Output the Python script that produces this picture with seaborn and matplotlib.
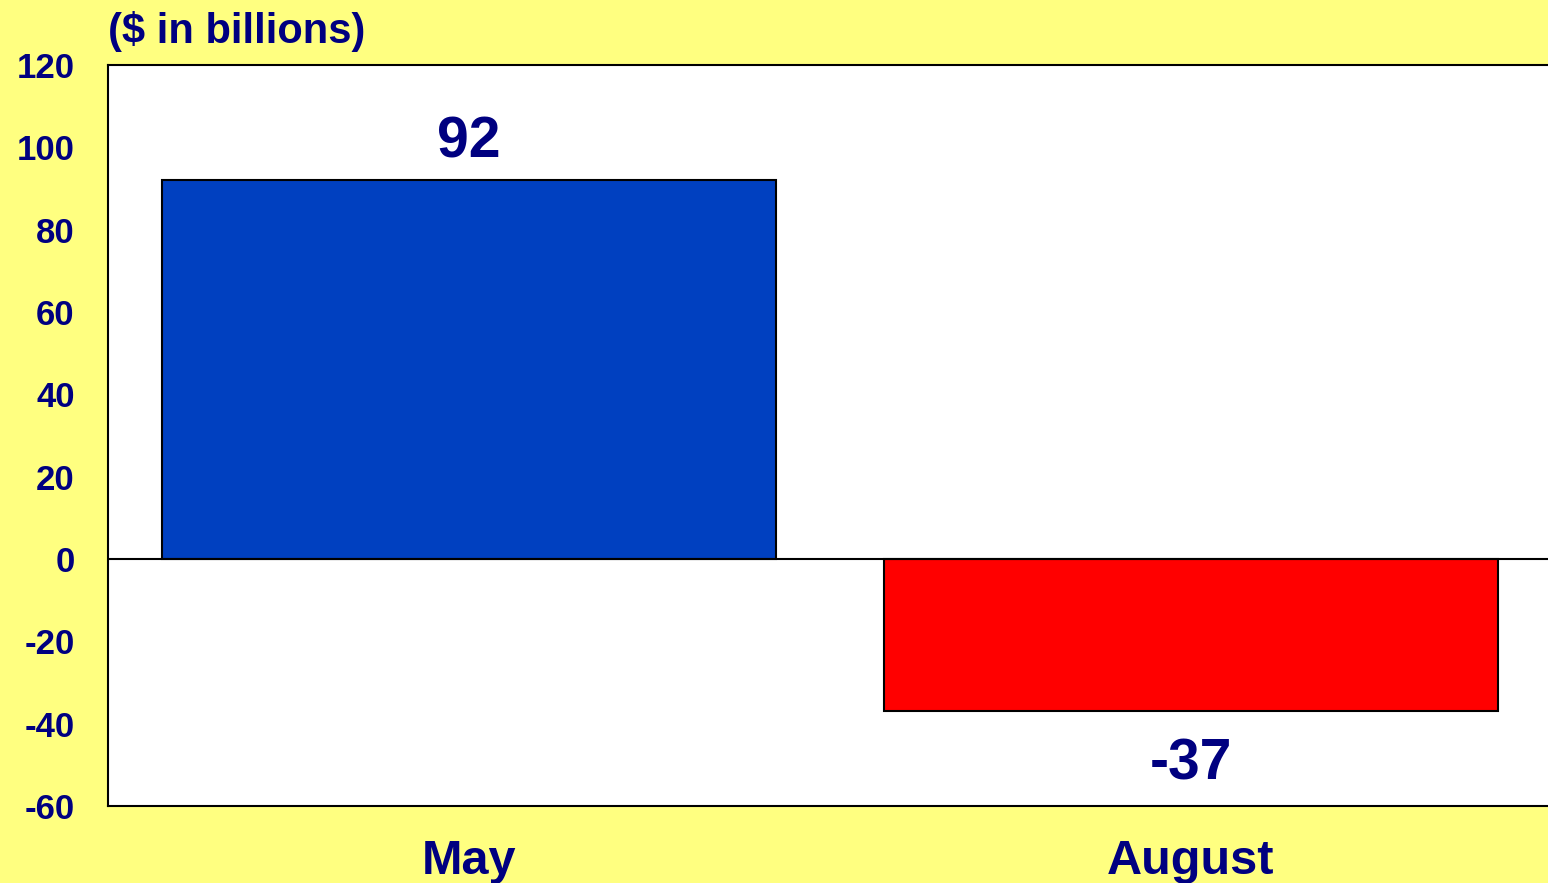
import matplotlib
matplotlib.use("Agg")
import matplotlib.pyplot as plt
import seaborn as sns
import pandas as pd

months = ["May", "August"]
values = [92, -37]
bar_colors = ["#0040C0", "#FF0000"]
y_ticks = [120, 100, 80, 60, 40, 20, 0, -20, -40, -60]
title_text = "($ in billions)"

BG = "#FFFF80"
NAVY = "#000080"

sns.set_theme(style="white")
plt.rcParams["font.family"] = ["Liberation Sans", "DejaVu Sans"]
plt.rcParams["font.weight"] = "bold"

df = pd.DataFrame({"month": months, "value": values})

fig = plt.figure(figsize=(15.48, 8.83), dpi=100, facecolor=BG)
W, H = 1548, 883
left, right, top, bottom = 108, 1552, 65, 806
ax = fig.add_axes([left / W, 1 - bottom / H, (right - left) / W, (bottom - top) / H])
ax.set_facecolor("white")

sns.barplot(data=df, x="month", y="value", hue="month", palette=bar_colors,
            order=months, hue_order=months, width=0.85, edgecolor="black",
            linewidth=1.5, legend=False, ax=ax, saturation=1)

ax.set_ylim(-60, 120)
ax.set_xlim(-0.5, 1.5)
ax.set_yticks(y_ticks)
ax.set_yticklabels([str(t) for t in y_ticks])
ax.axhline(0, color="black", lw=1.5, zorder=3)

for c in ax.containers:
    v = [d for d in c.datavalues if d == d]
    pad = 8 if (v and v[0] >= 0) else 19
    ax.bar_label(c, fmt="%.0f", padding=pad, fontsize=41,
                 fontweight="bold", color=NAVY)

ax.tick_params(axis="y", length=0, pad=24, labelsize=25, labelcolor=NAVY)
ax.tick_params(axis="x", length=0, pad=24, labelsize=35, labelcolor=NAVY)
for lab in ax.get_xticklabels() + ax.get_yticklabels():
    lab.set_fontweight("bold")
ax.set_xlabel("")
ax.set_ylabel("")
for s in ["left", "top", "bottom"]:
    ax.spines[s].set_color("black")
    ax.spines[s].set_linewidth(1.5)
    ax.spines[s].set_visible(True)
ax.spines["right"].set_visible(False)
ax.grid(False)

fig.text(108 / W, 1 - 43 / H, title_text, fontsize=30, fontweight="bold",
         color=NAVY, ha="left", va="baseline")

fig.savefig("out.png", dpi=100, facecolor=BG)
